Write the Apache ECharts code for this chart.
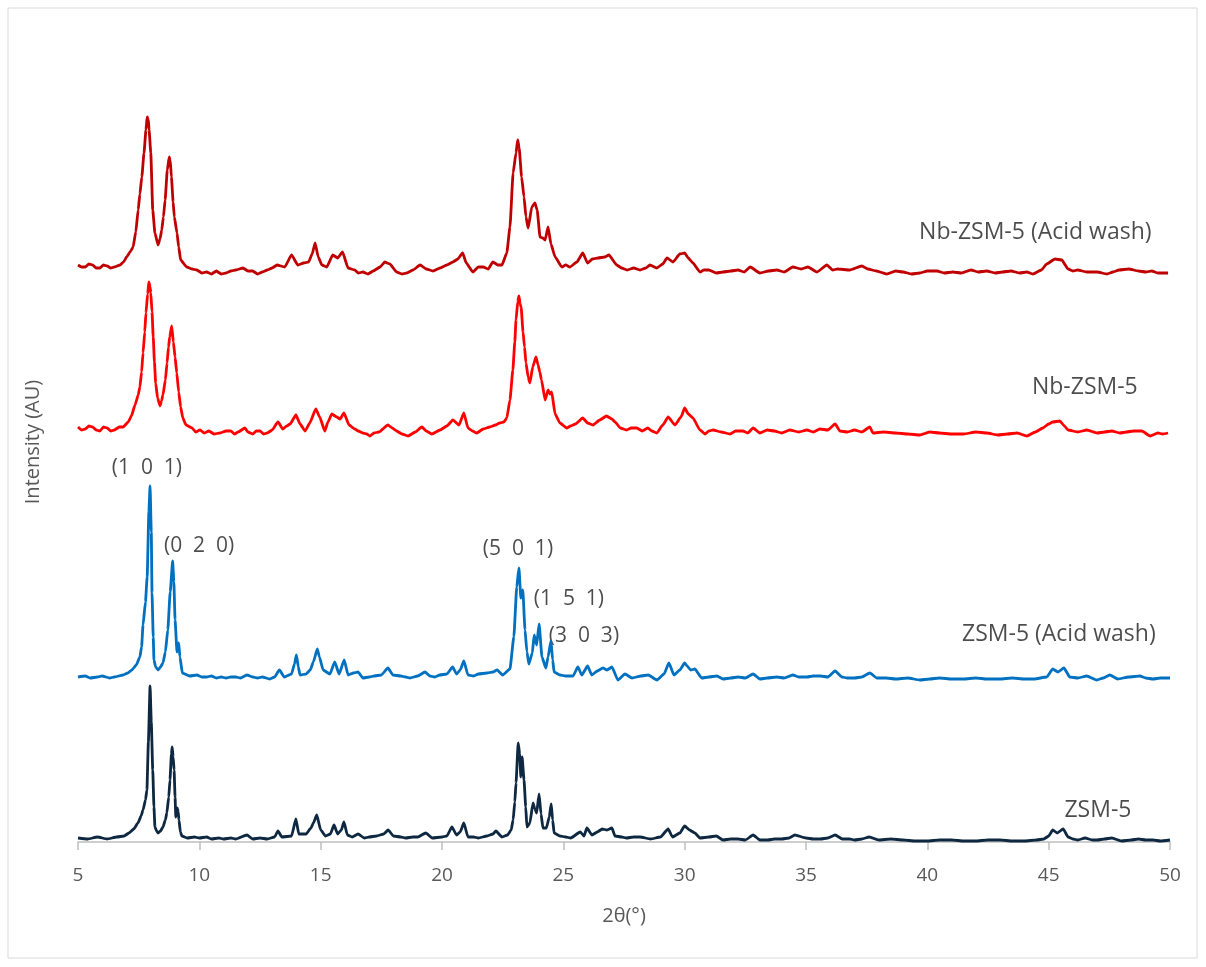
<!DOCTYPE html>
<html>
<head>
<meta charset="utf-8">
<script src="https://cdn.jsdelivr.net/npm/echarts@6/dist/echarts.min.js"></script>
<style>
  html, body { margin: 0; padding: 0; background: #fff; }
  #chart { width: 1206px; height: 967px; }
</style>
</head>
<body>
<div id="chart"></div>
<script>
// 2θ (deg) vs intensity (AU), patterns stacked by offset
var zsm5 = [[5.0,4],[5.4,3],[5.8,5],[6.2,3],[6.6,5],[6.9,6],[7.1,9],[7.3,13],[7.47,19],[7.6,26],[7.68,32],[7.78,42],[7.84,52],[7.9,100],[7.97,156],[8.02,120],[8.08,72],[8.13,35],[8.17,15],[8.24,11],[8.3,9],[8.4,11],[8.5,15],[8.6,22],[8.66,29],[8.74,45],[8.79,62],[8.85,88],[8.88,95],[8.92,85],[8.96,72],[9.0,45],[9.03,25],[9.09,34],[9.13,30],[9.16,22],[9.22,10],[9.28,6],[9.5,4],[9.8,5],[10.0,4],[10.3,5],[10.5,3],[10.8,4],[11.0,3],[11.3,4],[11.5,3],[11.96,7],[12.2,3],[12.5,4],[12.8,3],[13.1,5],[13.24,11],[13.4,5],[13.8,6],[13.98,23],[14.1,8],[14.4,8],[14.6,14],[14.7,19],[14.84,27],[15.0,12],[15.2,6],[15.4,8],[15.55,17],[15.7,8],[15.85,12],[15.96,20],[16.1,7],[16.3,5],[16.54,8],[16.8,4],[17.0,5],[17.3,6],[17.6,8],[17.78,12],[18.0,6],[18.3,5],[18.5,4],[18.8,5],[19.0,5],[19.33,9],[19.6,4],[20.0,5],[20.2,6],[20.41,15],[20.6,7],[20.75,10],[20.9,19],[21.07,5],[21.3,5],[21.5,4],[21.85,6],[22.1,8],[22.22,11],[22.47,5],[22.7,7],[22.85,12],[22.93,22],[23.0,40],[23.05,59],[23.14,99],[23.2,88],[23.25,65],[23.3,85],[23.38,62],[23.45,35],[23.5,15],[23.62,19],[23.75,39],[23.83,33],[23.9,29],[24.0,48],[24.08,28],[24.16,14],[24.3,14],[24.42,25],[24.5,38],[24.56,22],[24.62,9],[24.86,6],[25.1,5],[25.3,4],[25.7,10],[25.85,6],[25.97,14],[26.18,7],[26.4,10],[26.6,13],[26.8,12],[27.0,14],[27.13,6],[27.4,5],[27.6,4],[27.9,5],[28.16,5],[28.6,3],[29.0,5],[29.32,13],[29.5,5],[29.8,9],[30.0,16],[30.2,12],[30.42,9],[30.63,4],[31.0,5],[31.3,6],[31.58,2],[31.9,3],[32.2,3],[32.5,2],[32.82,7],[33.1,2],[33.43,2],[33.7,3],[34.0,3],[34.3,4],[34.54,7],[35.0,4],[35.3,3],[35.6,3],[35.9,4],[36.2,7],[36.5,3],[36.8,3],[37.0,2],[37.3,3],[37.6,5],[38.0,2],[38.5,3],[39.0,2],[39.5,1],[40.0,1],[40.5,2],[41.0,2],[41.5,1],[42.0,1],[42.5,2],[43.0,2],[43.5,1],[44.0,1],[44.5,2],[44.8,3],[45.0,6],[45.17,12],[45.35,9],[45.6,13],[45.8,5],[46.0,3],[46.2,2],[46.5,4],[46.8,2],[47.0,2],[47.3,3],[47.6,4],[48.0,1],[48.4,2],[48.7,3],[49.0,2],[49.3,2],[49.6,1],[50,2]];

var zsm5Acid = [[5.0,165],[5.3,166],[5.5,164],[5.8,165],[6.0,166],[6.3,164],[6.5,165],[6.86,167],[7.05,169],[7.22,172],[7.4,177],[7.55,185],[7.62,195],[7.68,217],[7.78,240],[7.85,265],[7.92,330],[7.97,356],[8.02,310],[8.05,249],[8.1,205],[8.13,182],[8.2,175],[8.3,172],[8.4,175],[8.5,179],[8.6,190],[8.7,212],[8.8,250],[8.9,281],[8.95,260],[9.0,222],[9.08,190],[9.15,199],[9.2,185],[9.3,169],[9.6,166],[9.9,167],[10.1,165],[10.3,165],[10.5,166],[10.7,164],[10.9,165],[11.1,164],[11.3,165],[11.5,165],[11.7,164],[11.96,167],[12.2,165],[12.4,164],[12.6,165],[12.9,163],[13.1,165],[13.3,172],[13.5,165],[13.8,168],[13.92,178],[14.0,187],[14.08,175],[14.15,167],[14.4,168],[14.57,172],[14.7,180],[14.86,193],[14.95,185],[15.1,172],[15.38,168],[15.58,180],[15.76,168],[15.97,182],[16.13,167],[16.35,169],[16.54,170],[16.74,164],[17.0,165],[17.2,166],[17.5,167],[17.77,174],[17.98,167],[18.3,166],[18.5,165],[18.68,164],[19.0,166],[19.3,170],[19.5,166],[19.7,165],[19.91,167],[20.2,168],[20.44,175],[20.6,168],[20.75,172],[20.9,181],[21.07,167],[21.3,166],[21.5,168],[21.85,169],[22.1,170],[22.27,172],[22.5,167],[22.8,173],[22.96,205],[23.08,255],[23.17,274],[23.25,244],[23.33,252],[23.42,212],[23.5,190],[23.58,178],[23.72,189],[23.8,207],[23.9,197],[24.0,218],[24.12,185],[24.28,174],[24.37,185],[24.49,201],[24.56,182],[24.62,170],[24.86,167],[25.1,166],[25.4,166],[25.6,175],[25.76,167],[26.0,176],[26.17,167],[26.4,171],[26.63,174],[26.8,172],[27.0,175],[27.25,162],[27.54,168],[27.83,164],[28.2,166],[28.5,167],[28.86,162],[29.15,168],[29.35,179],[29.56,167],[29.8,172],[30.0,179],[30.1,176],[30.25,172],[30.42,173],[30.7,164],[31.0,165],[31.33,166],[31.58,163],[31.9,164],[32.2,165],[32.5,164],[32.82,168],[33.1,163],[33.4,164],[33.8,165],[34.1,164],[34.46,167],[34.7,165],[35.04,165],[35.3,166],[35.6,166],[35.9,165],[36.2,171],[36.48,165],[36.7,164],[37.0,164],[37.3,165],[37.63,169],[37.92,164],[38.3,164],[38.7,163],[39.2,164],[39.69,162],[40.1,163],[40.5,164],[41.0,163],[41.5,163],[42.0,164],[42.45,163],[43.0,163],[43.5,164],[44.0,163],[44.4,163],[44.92,165],[45.17,173],[45.38,170],[45.63,174],[45.87,165],[46.2,164],[46.57,166],[46.98,162],[47.25,164],[47.52,167],[47.85,163],[48.3,165],[48.76,166],[49.0,164],[49.3,163],[49.6,164],[50,164]];

var nbZsm5 = [[5.0,415],[5.15,412],[5.3,413],[5.45,416],[5.6,415],[5.75,412],[5.9,411],[6.05,415],[6.2,414],[6.35,411],[6.5,412],[6.7,415],[6.86,415],[7.07,420],[7.2,426],[7.35,437],[7.48,447],[7.55,455],[7.62,470],[7.68,489],[7.75,510],[7.8,529],[7.87,548],[7.92,560],[7.97,555],[8.0,549],[8.05,530],[8.1,505],[8.15,480],[8.2,459],[8.28,444],[8.38,436],[8.44,441],[8.5,447],[8.6,462],[8.67,479],[8.73,495],[8.78,505],[8.86,516],[8.93,500],[9.0,485],[9.07,469],[9.15,450],[9.23,435],[9.32,424],[9.45,417],[9.7,414],[9.85,410],[10.03,412],[10.2,409],[10.4,411],[10.6,408],[10.85,409],[11.1,411],[11.3,411],[11.45,408],[11.6,410],[11.88,414],[12.0,410],[12.2,408],[12.35,411],[12.5,411],[12.65,408],[12.8,409],[13.0,412],[13.24,420],[13.44,413],[13.6,416],[13.74,418],[13.98,427],[14.15,418],[14.36,411],[14.55,419],[14.8,433],[14.96,425],[15.17,411],[15.3,420],[15.46,428],[15.66,425],[15.8,423],[15.96,429],[16.17,417],[16.4,413],[16.55,411],[16.74,409],[16.9,408],[17.03,406],[17.2,409],[17.4,410],[17.77,417],[17.95,414],[18.13,411],[18.35,408],[18.6,406],[18.9,410],[19.17,415],[19.35,411],[19.58,408],[19.92,412],[20.2,416],[20.45,422],[20.7,417],[20.9,429],[21.07,414],[21.25,411],[21.43,409],[21.7,413],[21.97,415],[22.2,417],[22.38,419],[22.55,420],[22.67,424],[22.8,442],[22.92,472],[23.0,500],[23.05,522],[23.12,540],[23.17,546],[23.22,538],[23.26,535],[23.34,510],[23.4,495],[23.46,479],[23.55,465],[23.62,459],[23.74,475],[23.87,485],[23.96,477],[24.03,470],[24.1,462],[24.25,442],[24.37,452],[24.45,448],[24.52,450],[24.66,428],[24.86,419],[25.14,414],[25.3,416],[25.5,418],[25.8,424],[26.0,419],[26.22,417],[26.5,422],[26.78,426],[27.0,423],[27.13,420],[27.35,414],[27.6,412],[27.8,414],[28.03,414],[28.25,411],[28.48,414],[28.65,411],[28.85,409],[29.1,417],[29.32,425],[29.6,417],[29.85,425],[30.0,434],[30.15,428],[30.34,424],[30.63,412],[30.84,408],[31.0,411],[31.17,412],[31.5,410],[31.87,408],[32.1,411],[32.4,411],[32.6,409],[32.82,414],[33.1,409],[33.4,412],[33.7,411],[34.0,409],[34.33,412],[34.7,410],[35.04,412],[35.3,410],[35.57,413],[35.9,412],[36.2,418],[36.4,411],[36.7,410],[37.0,412],[37.3,410],[37.63,415],[37.76,409],[38.2,410],[38.7,409],[39.2,408],[39.69,407],[40.1,410],[40.5,409],[41.0,408],[41.5,408],[42.0,410],[42.45,409],[42.9,407],[43.3,408],[43.7,409],[44.1,406],[44.45,410],[44.76,414],[45.0,418],[45.17,420],[45.46,421],[45.65,416],[45.8,412],[46.2,410],[46.57,412],[47.0,409],[47.3,410],[47.6,411],[47.93,409],[48.2,410],[48.5,411],[48.84,411],[49.18,406],[49.5,409],[49.7,408],[49.92,409]];

var nbZsm5Acid = [[5.0,577],[5.15,575],[5.3,575],[5.45,578],[5.6,577],[5.75,574],[5.9,574],[6.05,577],[6.2,576],[6.35,574],[6.5,575],[6.73,577],[6.88,580],[7.0,585],[7.15,590],[7.27,595],[7.38,610],[7.48,632],[7.55,648],[7.63,665],[7.72,689],[7.8,712],[7.85,725],[7.9,722],[7.93,712],[8.0,689],[8.08,632],[8.17,609],[8.3,597],[8.38,603],[8.45,612],[8.52,625],[8.59,642],[8.68,672],[8.76,685],[8.8,682],[8.85,665],[8.92,640],[8.97,625],[9.08,609],[9.15,595],[9.23,582],[9.48,575],[9.7,573],[9.9,572],[10.1,569],[10.3,570],[10.5,568],[10.7,571],[10.9,568],[11.1,569],[11.3,571],[11.5,572],[11.8,574],[12.0,571],[12.2,571],[12.4,568],[12.6,570],[12.8,572],[13.0,574],[13.2,577],[13.52,575],[13.8,587],[14.06,577],[14.3,579],[14.5,580],[14.65,588],[14.77,599],[14.9,585],[15.05,577],[15.25,575],[15.5,587],[15.7,584],[15.9,590],[16.13,574],[16.4,572],[16.55,569],[16.74,570],[16.95,568],[17.16,571],[17.45,575],[17.64,580],[17.85,578],[18.13,570],[18.35,568],[18.55,569],[18.8,572],[19.1,577],[19.35,573],[19.63,571],[19.92,574],[20.2,577],[20.45,580],[20.65,583],[20.85,589],[21.0,579],[21.27,570],[21.5,575],[21.7,575],[21.9,573],[22.1,580],[22.3,577],[22.47,577],[22.67,589],[22.8,615],[22.93,669],[23.05,689],[23.12,702],[23.18,694],[23.28,665],[23.38,645],[23.46,625],[23.55,614],[23.7,635],[23.83,639],[23.92,632],[24.04,605],[24.15,604],[24.25,602],[24.37,615],[24.49,598],[24.66,585],[24.94,575],[25.1,577],[25.27,575],[25.56,580],[25.8,589],[26.0,579],[26.2,583],[26.43,584],[26.7,585],[26.88,587],[27.2,577],[27.4,574],[27.63,572],[27.9,574],[28.16,572],[28.4,574],[28.57,577],[28.85,574],[29.1,578],[29.27,584],[29.52,580],[29.8,588],[30.0,589],[30.15,584],[30.34,579],[30.63,570],[30.8,572],[31.0,572],[31.3,569],[31.58,570],[31.9,571],[32.2,572],[32.45,570],[32.7,575],[33.1,569],[33.45,571],[33.8,572],[34.1,570],[34.46,575],[34.8,573],[35.08,575],[35.45,570],[35.86,577],[36.1,572],[36.3,573],[36.8,572],[37.3,576],[37.55,573],[37.9,571],[38.33,568],[38.7,571],[39.0,570],[39.35,568],[39.69,569],[40.0,571],[40.4,571],[40.7,569],[41.05,570],[41.4,569],[41.8,572],[42.1,570],[42.45,571],[42.8,569],[43.1,570],[43.45,571],[43.8,569],[44.1,570],[44.35,568],[44.7,572],[44.92,578],[45.26,583],[45.54,582],[45.8,573],[46.0,571],[46.2,572],[46.57,570],[47.0,570],[47.4,568],[47.65,570],[47.9,572],[48.3,573],[48.7,571],[49.0,570],[49.25,571],[49.5,569],[49.92,569]];

// text labels in data coordinates
var sampleNames = ['Nb-ZSM-5 (Acid wash)', 'Nb-ZSM-5', 'ZSM-5 (Acid wash)', 'ZSM-5'];
var sampleNamePos = [[44.45,610],[46.49,455],[45.42,208],[47.03,32]];
var peakNames = ['(1  0  1)', '(0  2  0)', '(5  0  1)', '(1  5  1)', '(3  0  3)'];
var peakNamePos = [[7.84,374],[9.99,296],[23.13,293],[25.23,243],[25.85,206]];

var textFont = "'Segoe UI', 'Open Sans', 'Noto Sans', sans-serif";

function labelData(names, pos) {
    var out = [];
    for (var i = 0; i < names.length; i++) {
        out.push({value: pos[i], name: names[i]});
    }
    return out;
}

function lineSeries(name, data, color) {
    return {
        name: name,
        type: 'line',
        data: data,
        symbol: 'none',
        smooth: 0.15,
        smoothMonotone: 'x',
        lineStyle: {color: color, width: 2.8},
        silent: true
    };
}

function textSeries(data, size) {
    return {
        type: 'scatter',
        data: data,
        symbolSize: 1,
        itemStyle: {color: 'rgba(0,0,0,0)'},
        silent: true,
        label: {
            show: true,
            position: 'inside',
            formatter: '{b}',
            fontFamily: textFont,
            fontSize: size,
            color: '#1f1f1f'
        }
    };
}

var mchart = echarts.init(document.getElementById('chart'));

var option = {
    backgroundColor: '#fff',
    animation: false,
    grid: {left: 78, right: 36, top: 42, bottom: 125},
    graphic: [{
        type: 'rect',
        shape: {x: 8, y: 8, width: 1189, height: 950},
        style: {fill: 'none', stroke: '#d9d9d9', lineWidth: 1}
    }],
    xAxis: {
        type: 'value',
        min: 5,
        max: 50,
        interval: 5,
        name: '2θ(°)',
        nameLocation: 'middle',
        nameGap: 64,
        nameTextStyle: {fontFamily: textFont, fontSize: 20, color: '#595959'},
        axisLine: {lineStyle: {color: '#bfbfbf', width: 1.5}},
        axisTick: {show: true, length: 8, lineStyle: {color: '#bfbfbf', width: 1.5}},
        axisLabel: {fontFamily: textFont, fontSize: 19, color: '#595959', margin: 24},
        splitLine: {show: false}
    },
    yAxis: {
        type: 'value',
        min: 0,
        max: 800,
        name: 'Intensity (AU)',
        nameLocation: 'middle',
        nameGap: 35,
        nameTextStyle: {fontFamily: textFont, fontSize: 20, color: '#595959'},
        axisLine: {show: false},
        axisTick: {show: false},
        axisLabel: {show: false},
        splitLine: {show: false}
    },
    series: [
        lineSeries('ZSM-5', zsm5, '#0e2841'),
        lineSeries('ZSM-5 (Acid wash)', zsm5Acid, '#0070c0'),
        lineSeries('Nb-ZSM-5', nbZsm5, '#ff0000'),
        lineSeries('Nb-ZSM-5 (Acid wash)', nbZsm5Acid, '#c00000'),
        textSeries(labelData(sampleNames, sampleNamePos), 23),
        textSeries(labelData(peakNames, peakNamePos), 21)
    ]
};

mchart.setOption(option, true);
</script>
</body>
</html>
